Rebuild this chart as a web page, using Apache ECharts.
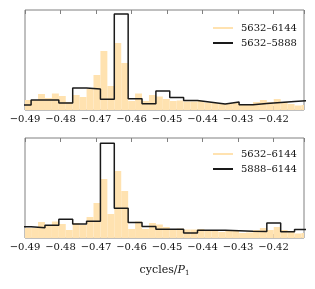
<!DOCTYPE html>
<html>
<head>
<meta charset="utf-8">
<script src="https://cdn.jsdelivr.net/npm/echarts@6/dist/echarts.min.js"></script>
<style>
html,body{margin:0;padding:0;background:#fff;}
#chart{width:315px;height:289px;}
</style>
</head>
<body>
<div id="chart"></div>
<script>
// ---- data ----
// orange histogram (5632–6144): bins of width 1/512, first bin starts at k = -251
const orangeFirstBin = -251;
const orangeBinsPerUnit = 512;
const orangeValues = [10, 10, 16, 12, 16.5, 14, 8, 15, 13, 21, 35, 59, 24, 67, 47, 9, 16.5, 9, 15, 13.5,
  11, 9, 9.5, 8.5, 8.5, 9, 7.5, 7, 6, 7, 7, 5, 5.5, 8, 10, 8, 11, 8, 6, 4.5, 5];
// black step curves: bins of width 1/256, first bin starts at k = -126
const blackFirstBin = -126;
const blackBinsPerUnit = 256;
const blackTopValues = [5, 10, 10, 7, 22, 21, 10.8, 96, 11.3, 6.3, 19, 12.6, 9.5, 7.8, 6, 8, 5.2, 6.5, 7.6, 8.5, 9.3];
const blackBottomValues = [11.3, 10.2, 12.7, 18.7, 14, 16.8, 94.7, 29.8, 15.4, 11.5, 8.8, 8.8, 5, 7.7, 7.7, 7.3, 6.7, 6.5, 15, 6.3, 8.5];
const legendTop = ['5632–6144', '5632–5888'];
const legendBottom = ['5632–6144', '5888–6144'];
const xMin = -0.49, xMax = -0.4114, xStep = 0.01;

// ---- build ----
const orangeData = orangeValues.map((v, i) => [(orangeFirstBin + i) / orangeBinsPerUnit, (orangeFirstBin + i + 1) / orangeBinsPerUnit, v]);
function stepData(vals) {
  const d = vals.map((v, i) => [(blackFirstBin + i) / blackBinsPerUnit, v]);
  d.push([(blackFirstBin + vals.length) / blackBinsPerUnit, vals[vals.length - 1]]);
  return d;
}
const FONT = 'DejaVu Serif';
const ORANGE = '#FFE2B0';
const FRAME = '#808080';

function renderBar(params, api) {
  const x0 = api.value(0), x1 = api.value(1), h = api.value(2);
  const p0 = api.coord([x0, 0]), p1 = api.coord([x1, h]);
  const rect = {x: p0[0], y: p1[1], width: p1[0] - p0[0], height: p0[1] - p1[1]};
  const cs = params.coordSys;
  const c = echarts.graphic.clipRectByRect(rect, {x: cs.x, y: cs.y, width: cs.width, height: cs.height});
  if (!c) return null;
  return {type: 'rect', shape: c, style: {fill: ORANGE}};
}
function labelFmt(v) {
  const r = Math.round(v / xStep);
  if (Math.abs(v / xStep - r) > 1e-6) return '';
  return (r * xStep).toFixed(2).replace('-', '−');
}
function bottomAxis(gi, withName) {
  const ax = {
    type: 'value', gridIndex: gi, position: 'bottom', min: xMin, max: xMax, interval: xStep,
    axisLine: {show: false}, splitLine: {show: false},
    axisTick: {show: true, inside: true, length: 4, lineStyle: {color: FRAME, width: 1}},
    axisLabel: {show: true, formatter: labelFmt, fontFamily: FONT, fontSize: 10, color: '#111', margin: 4, showMaxLabel: false}
  };
  if (withName) {
    ax.name = 'cycles/{i|P}{s|1}';
    ax.nameLocation = 'middle';
    ax.nameGap = 26;
    ax.nameTextStyle = {fontFamily: FONT, fontSize: 11, color: '#111',
      rich: {i: {fontFamily: FONT, fontStyle: 'italic', fontSize: 11, color: '#111'},
             s: {fontFamily: FONT, fontSize: 7, color: '#111', padding: [6, 0, 0, 0]}}};
  }
  return ax;
}
function topAxis(gi) {
  return {
    type: 'value', gridIndex: gi, position: 'top', min: xMin, max: xMax, interval: xStep,
    axisLine: {show: false}, splitLine: {show: false},
    axisTick: {show: true, inside: true, length: 4, lineStyle: {color: FRAME, width: 1}},
    axisLabel: {show: false}
  };
}
const chart = echarts.init(document.getElementById('chart'), null, {renderer: 'canvas'});
chart.setOption({
  animation: false,
  backgroundColor: '#fff',
  grid: [
    {left: 25, right: 11, top: 10, height: 100, show: true, borderColor: FRAME, borderWidth: 1, backgroundColor: 'transparent'},
    {left: 25, right: 11, top: 138, height: 100, show: true, borderColor: FRAME, borderWidth: 1, backgroundColor: 'transparent'}
  ],
  xAxis: [bottomAxis(0, false), topAxis(0), bottomAxis(1, true), topAxis(1)],
  yAxis: [
    {type: 'value', gridIndex: 0, min: 0, max: 100, show: false},
    {type: 'value', gridIndex: 1, min: 0, max: 100, show: false}
  ],
  legend: [
    {data: legendTop, orient: 'vertical', left: 208, top: 17, itemWidth: 20, itemHeight: 2, itemGap: 3,
     icon: 'rect', textStyle: {fontFamily: FONT, fontSize: 10, color: '#111', lineHeight: 12, padding: [0, 0, 0, 3]}, selectedMode: false},
    {data: legendBottom, orient: 'vertical', left: 208, top: 143, itemWidth: 20, itemHeight: 2, itemGap: 3,
     icon: 'rect', textStyle: {fontFamily: FONT, fontSize: 10, color: '#111', lineHeight: 12, padding: [0, 0, 0, 3]}, selectedMode: false}
  ],
  series: [
    {name: '5632–6144', type: 'custom', xAxisIndex: 0, yAxisIndex: 0, renderItem: renderBar, data: orangeData,
     encode: {x: [0, 1], y: 2}, itemStyle: {color: ORANGE}, clip: true},
    {name: '5632–5888', type: 'line', xAxisIndex: 0, yAxisIndex: 0, data: stepData(blackTopValues), step: 'end',
     showSymbol: false, symbol: 'none', lineStyle: {color: '#1a1a1a', width: 1.5}, itemStyle: {color: '#1a1a1a'}, clip: true},
    {name: '5632–6144', type: 'custom', xAxisIndex: 2, yAxisIndex: 1, renderItem: renderBar, data: orangeData,
     encode: {x: [0, 1], y: 2}, itemStyle: {color: ORANGE}, clip: true},
    {name: '5888–6144', type: 'line', xAxisIndex: 2, yAxisIndex: 1, data: stepData(blackBottomValues), step: 'end',
     showSymbol: false, symbol: 'none', lineStyle: {color: '#1a1a1a', width: 1.5}, itemStyle: {color: '#1a1a1a'}, clip: true}
  ]
});
</script>
</body>
</html>
